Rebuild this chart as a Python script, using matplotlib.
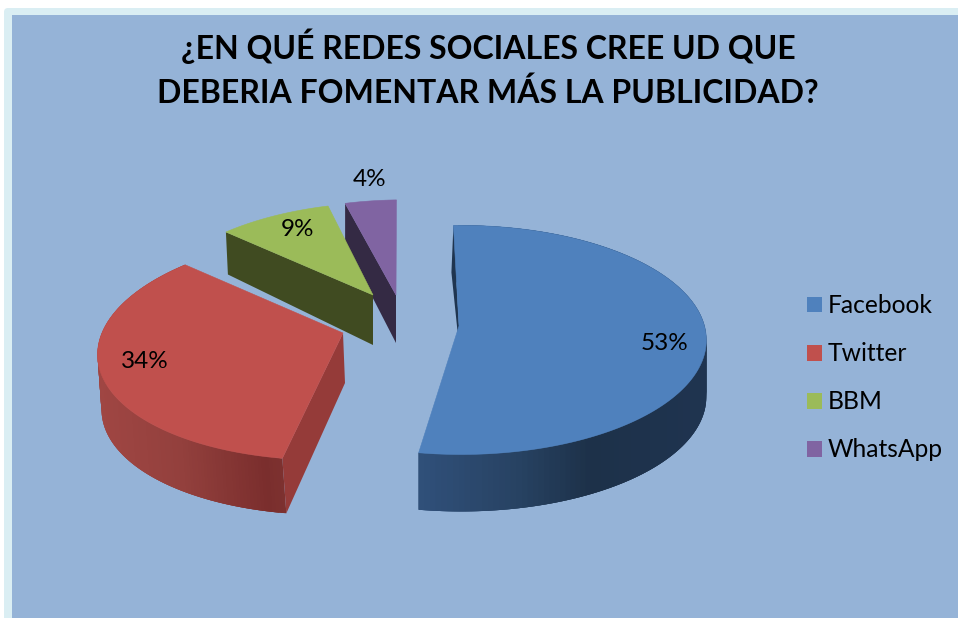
import numpy as np
import matplotlib
matplotlib.use("Agg")
import matplotlib.pyplot as plt
from matplotlib.patches import Polygon, Rectangle, FancyBboxPatch, Patch
from matplotlib.colors import to_rgb

categories = ["Facebook", "Twitter", "BBM", "WhatsApp"]
values = [53, 34, 9, 4]
labels = ["53%", "34%", "9%", "4%"]
colors = ["#4f81bd", "#c0504d", "#9bbb59", "#8064a2"]
title = "¿EN QUÉ REDES SOCIALES CREE UD QUE\nDEBERIA FOMENTAR MÁS LA PUBLICIDAD?"

# layout of each exploded slice, in pixels
apex = {"Facebook": (461, 326), "Twitter": (343, 333), "BBM": (373, 295), "WhatsApp": (396, 295)}
radius = {"Facebook": 0.99, "Twitter": 0.98, "BBM": 0.9, "WhatsApp": 0.93}
shear = {"Facebook": 0.0, "Twitter": -0.15, "BBM": -0.13, "WhatsApp": -0.08}
depth = {"Facebook": 57, "Twitter": 55, "BBM": 50, "WhatsApp": 48}
wall_dx = {"Facebook": 0, "Twitter": 4, "BBM": 2, "WhatsApp": 0}
label_pos = [(665, 343), (145, 362), (298, 229), (370, 179)]
wall_stops = {"Facebook": [(419, "#30507a"), (520, "#274262"), (590, "#1d3149"), (708, "#1f3450")],
              "Twitter": [(97, "#a04643"), (180, "#93403d"), (265, "#7a2e2d"), (285, "#7e3230")]}
cut_wall = {"Facebook": "#1f3550", "Twitter": "#953b39", "BBM": "#404b21", "WhatsApp": "#342a44"}

B, A, K = 246.0, 114.0, 0.1228
ROT = np.deg2rad(-2)


def project(name, theta):
    """Clockwise angle from top -> pixel point on the tilted disc."""
    ax0, ay0 = apex[name]
    r = radius[name]
    u, v = r * np.sin(theta), r * np.cos(theta)
    den = 1 + K * v
    dy = -A * v / den
    return ax0 + B * u / den + shear[name] * dy, ay0 + dy


fig = plt.figure(figsize=(9.58, 6.18), dpi=100, facecolor="white")
ax = fig.add_axes([0, 0, 1, 1])
ax.set_xlim(0, 958)
ax.set_ylim(618, 0)
ax.axis("off")

ax.add_patch(FancyBboxPatch((4, 8), 970, 630, boxstyle="round,pad=0,rounding_size=4",
                            fc="#daeef3", ec="none", zorder=0))
ax.add_patch(Rectangle((12, 15), 960, 620, fc="#95b3d7", ec="none", zorder=1))

edges = np.cumsum([0] + values) / sum(values) * 2 * np.pi + ROT
draw_order = ["WhatsApp", "BBM", "Twitter", "Facebook"]
z = 2
for name in draw_order:
    i = categories.index(name)
    a0, a1 = edges[i], edges[i + 1]
    th = np.linspace(a0, a1, 160)
    xs, ys = project(name, th)
    px, py = apex[name]
    d = depth[name]
    dx = wall_dx[name]

    # outer curved wall with shading (quads overlap so no seams show)
    if name in wall_stops:
        stops = wall_stops[name]
        sx = [s[0] for s in stops]
        sc = np.array([to_rgb(s[1]) for s in stops])
        for k in range(len(th) - 1):
            k2 = min(k + 3, len(th) - 1)
            xm = (xs[k] + xs[k + 1]) / 2
            col = [np.interp(xm, sx, sc[:, c]) for c in range(3)]
            ax.add_patch(Polygon([(xs[k], ys[k]), (xs[k2], ys[k2]),
                                  (xs[k2] + dx, ys[k2] + d), (xs[k] + dx, ys[k] + d)],
                                 fc=col, ec="none", zorder=z))
        z += 1

    # flat cut walls
    if name == "Facebook":
        ax.add_patch(Polygon([(xs[0], ys[0]), (xs[0] - 2, ys[0] + 47), (px - 3, py + 10), (px - 2, py)],
                             fc=cut_wall[name], ec="none", zorder=z))
    elif name == "Twitter":
        ax.add_patch(Polygon([(px, py), (xs[0], ys[0]), (xs[0] + dx, ys[0] + d), (px + 2, py + d - 5)],
                             fc=cut_wall[name], ec="none", zorder=z))
    else:
        ax.add_patch(Polygon([(px, py), (xs[0], ys[0]), (xs[0] + dx, ys[0] + d * 0.85), (px, py + d)],
                             fc=cut_wall[name], ec="none", zorder=z))
    z += 1

    # top face
    ax.add_patch(Polygon(np.vstack([[px - (2 if name == "Facebook" else 0), py], np.column_stack([xs, ys])]),
                         closed=True, fc=colors[i], ec=colors[i], lw=0.4, zorder=z))
    z += 1

for (lx, ly), t in zip(label_pos, labels):
    ax.text(lx, ly, t, ha="center", va="center", fontsize=17.5, family="Lato", color="black", zorder=50)

ax.text(488, 68, title, ha="center", va="center", fontsize=23, family="Lato", weight="bold",
        color="black", linespacing=1.53, zorder=50)

handles = [Patch(fc=c, ec="none") for c in colors]
ax.legend(handles, categories, loc="upper left", bbox_to_anchor=(785 / 958, 1 - 272 / 618),
          frameon=False, labelspacing=1.02, handlelength=0.62, handleheight=0.62,
          handletextpad=0.22, borderpad=0.4, prop={"family": "Lato", "size": 17.7})

fig.savefig("out.png", dpi=100)
